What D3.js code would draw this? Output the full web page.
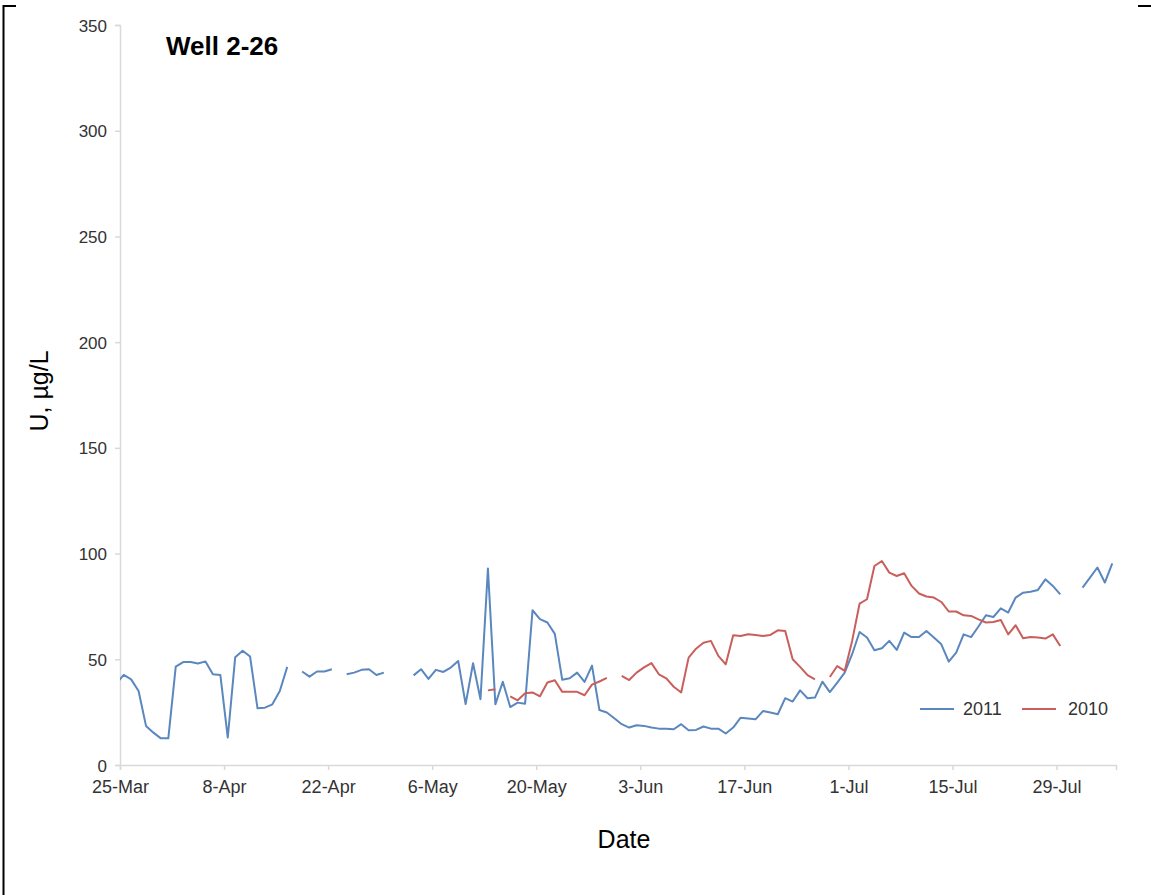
<!DOCTYPE html>
<html>
<head>
<meta charset="utf-8">
<script src="https://cdn.jsdelivr.net/npm/d3@7/dist/d3.min.js"></script>
<style>
  html, body { margin: 0; padding: 0; background: #fff; }
  svg { display: block; font-family: "Liberation Sans", Arial, sans-serif; }
</style>
</head>
<body>
<svg id="chart" width="1151" height="895"></svg>
<script>
// ---- DATA ----
const chartTitle = "Well 2-26";
const xTitle = "Date";
const yTitle = "U, \u00b5g/L";
const seriesNames = ["2011", "2010"];

const dates = [
  "03-24","03-25","03-26","03-27","03-28","03-29","03-30","03-31",
  "04-01","04-02","04-03","04-04","04-05","04-06","04-07","04-08","04-09","04-10",
  "04-11","04-12","04-13","04-14","04-15","04-16","04-17","04-18","04-19","04-20",
  "04-21","04-22","04-23","04-24","04-25","04-26","04-27","04-28","04-29","04-30",
  "05-01","05-02","05-03","05-04","05-05","05-06","05-07","05-08","05-09","05-10",
  "05-11","05-12","05-13","05-14","05-15","05-16","05-17","05-18","05-19","05-20",
  "05-21","05-22","05-23","05-24","05-25","05-26","05-27","05-28","05-29","05-30","05-31",
  "06-01","06-02","06-03","06-04","06-05","06-06","06-07","06-08","06-09","06-10",
  "06-11","06-12","06-13","06-14","06-15","06-16","06-17","06-18","06-19","06-20",
  "06-21","06-22","06-23","06-24","06-25","06-26","06-27","06-28","06-29","06-30",
  "07-01","07-02","07-03","07-04","07-05","07-06","07-07","07-08","07-09","07-10",
  "07-11","07-12","07-13","07-14","07-15","07-16","07-17","07-18","07-19","07-20",
  "07-21","07-22","07-23","07-24","07-25","07-26","07-27","07-28","07-29","07-30","07-31",
  "08-01","08-02","08-03","08-04","08-05"
];

const values2011 = [
  38.5, 42.6, 40.5, 35, 18.5, 15.3, 12.6, 12.6,
  46.5, 48.7, 48.7, 48, 49, 42.9, 42.6, 13, 51, 54,
  51.3, 26.8, 27.1, 28.7, 35, 46.4, null, 44.2, 41.8, 44.2,
  44.2, 45.3, null, 42.9, 43.7, 45, 45.3, 42.6, 43.7, null,
  null, null, 42.4, 45.3, 40.7, 45, 44, 46.1, 49.2, 28.8,
  48.1, 31.1, 92.9, 28.7, 39.4, 27.4, 29.5, 29, 73.2, 69,
  67.4, 62, 40.3, 41, 43.7, 39.3, 47, 26, 24.8, 22.1, 19.3,
  17.7, 18.8, 18.5, 17.7, 17.2, 17.2, 16.9, 19.3, 16.4, 16.6,
  18.2, 17.2, 17.2, 14.9, 17.7, 22.4, 22, 21.6, 25.5, 24.8,
  24, 31.6, 30, 35.3, 31.6, 31.9, 39.4, 34.5, 39, 43.7,
  52.4, 62.9, 60.3, 54.3, 55.2, 58.7, 54.4, 62.6, 60.5, 60.5,
  63.4, 60.3, 57.1, 48.9, 53.2, 61.8, 60.5, 65.5, 70.8, 70,
  74.1, 72.1, 79.2, 81.5, 81.9, 82.8, 87.8, 84.7, 80.7, null, null,
  83.9, 88.6, 93.4, 86.3, 95.4
];

const values2010 = [
  null, null, null, null, null, null, null, null,
  null, null, null, null, null, null, null, null, null, null,
  null, null, null, null, null, null, null, null, null, null,
  null, null, null, null, null, null, null, null, null, null,
  null, null, null, null, null, null, null, null, null, null,
  null, null, 35.3, 35.8, null, 32.5, 30.6, 33.9, 34.3, 32.5,
  39, 40.1, 34.6, 34.6, 34.6, 33, 38, 39.5, 41.2, null, 42.2,
  40.2, 43.7, 46.2, 48.2, 42.9, 41, 37, 34.3, 50.8, 55,
  57.8, 58.7, 51.6, 47.6, 61.4, 61, 61.8, 61.5, 61, 61.5,
  63.7, 63.4, 50, 46.4, 42.5, 40.5, null, 41.6, 46.8, 44.5,
  58.7, 76.3, 78.4, 94.1, 96.5, 91, 89.4, 90.7, 84.7, 81.1,
  79.7, 79.2, 77.1, 72.6, 72.6, 70.8, 70.5, 68.9, 67.4, 67.6,
  68.6, 61.8, 66.1, 59.9, 60.5, 60.3, 59.8, 61.8, 56.3, null, null,
  null, null, null, null, null
];

const xTickDates = ["03-25","04-08","04-22","05-06","05-20","06-03","06-17","07-01","07-15","07-29"];
const xTickLabels = ["25-Mar","8-Apr","22-Apr","6-May","20-May","3-Jun","17-Jun","1-Jul","15-Jul","29-Jul"];
const yTicks = [0, 50, 100, 150, 200, 250, 300, 350];
const xDomain = ["03-25", "08-06"];
const yDomain = [0, 350];

// ---- LAYOUT ----
const YEAR = 2011;
const parseDay = (s, h) => { const [m, d] = s.split("-").map(Number); return new Date(YEAR, m - 1, d, h || 0); };

const colors = ["#5b87bf", "#c95f5c"];
const plot = { left: 120, right: 1116, top: 25, bottom: 765 };

const svg = d3.select("#chart");

// frame marks
svg.append("line").attr("x1", 3.5).attr("x2", 3.5).attr("y1", 5).attr("y2", 895).attr("stroke", "#000").attr("stroke-width", 2);
svg.append("line").attr("x1", 3).attr("x2", 16).attr("y1", 6).attr("y2", 6).attr("stroke", "#000").attr("stroke-width", 2);
svg.append("line").attr("x1", 1138).attr("x2", 1151).attr("y1", 6).attr("y2", 6).attr("stroke", "#000").attr("stroke-width", 2);

const x = d3.scaleTime()
  .domain([parseDay(xDomain[0]), parseDay(xDomain[1])])
  .range([plot.left, plot.right]);
const y = d3.scaleLinear().domain(yDomain).range([plot.bottom, plot.top]);

// axes
const axisColor = "#d9d9d9";
const textColor = "#333333";

const yAxis = svg.append("g")
  .attr("transform", `translate(${plot.left},0)`)
  .call(d3.axisLeft(y).tickValues(yTicks).tickSize(5).tickPadding(8).tickFormat(d3.format("d")));
yAxis.select(".domain").attr("stroke", axisColor).attr("stroke-width", 1.5);
yAxis.selectAll(".tick line").attr("stroke", axisColor).attr("stroke-width", 1.5);
yAxis.selectAll(".tick text").attr("fill", textColor).style("font-size", "17px").attr("dy", "0.36em");

const xAxis = svg.append("g")
  .attr("transform", `translate(0,${plot.bottom})`)
  .call(d3.axisBottom(x)
    .tickValues(xTickDates.map(s => parseDay(s)))
    .tickSize(5).tickPadding(10)
    .tickFormat((d, i) => xTickLabels[i]));
xAxis.select(".domain").attr("stroke", axisColor).attr("stroke-width", 1.5);
xAxis.selectAll(".tick line").attr("stroke", axisColor).attr("stroke-width", 1.5);
xAxis.selectAll(".tick text").attr("fill", textColor).style("font-size", "18px");

// clip
svg.append("clipPath").attr("id", "plotclip")
  .append("rect").attr("x", plot.left).attr("y", plot.top - 10)
  .attr("width", plot.right - plot.left).attr("height", plot.bottom - plot.top + 10);

const line = d3.line()
  .defined(d => d.v !== null)
  .x(d => x(d.t))
  .y(d => y(d.v));

const seriesValues = [values2011, values2010];
const g = svg.append("g").attr("clip-path", "url(#plotclip)");
seriesValues.forEach((vals, si) => {
  const pts = dates.map((s, i) => ({ t: parseDay(s, 12), v: vals[i] }));
  g.append("path")
    .datum(pts)
    .attr("fill", "none")
    .attr("stroke", colors[si])
    .attr("stroke-width", 2)
    .attr("stroke-linejoin", "round")
    .attr("d", line);
});

// titles
svg.append("text").attr("x", 166).attr("y", 55)
  .style("font-size", "26px").style("font-weight", "bold").attr("fill", "#000")
  .text(chartTitle);

svg.append("text").attr("x", 624).attr("y", 848).attr("text-anchor", "middle")
  .style("font-size", "25px").attr("fill", "#000").text(xTitle);

svg.append("text")
  .attr("transform", "translate(48,391) rotate(-90)")
  .attr("text-anchor", "middle")
  .style("font-size", "25px").attr("fill", "#000").text(yTitle);

// legend
const legendItems = [{ x: 920, tx: 963 }, { x: 1022, tx: 1068 }];
legendItems.forEach((it, i) => {
  svg.append("line").attr("x1", it.x).attr("x2", it.x + 34).attr("y1", 709).attr("y2", 709)
    .attr("stroke", colors[i]).attr("stroke-width", 2);
  svg.append("text").attr("x", it.tx).attr("y", 715)
    .style("font-size", "18px").attr("fill", textColor).text(seriesNames[i]);
});
</script>
</body>
</html>
